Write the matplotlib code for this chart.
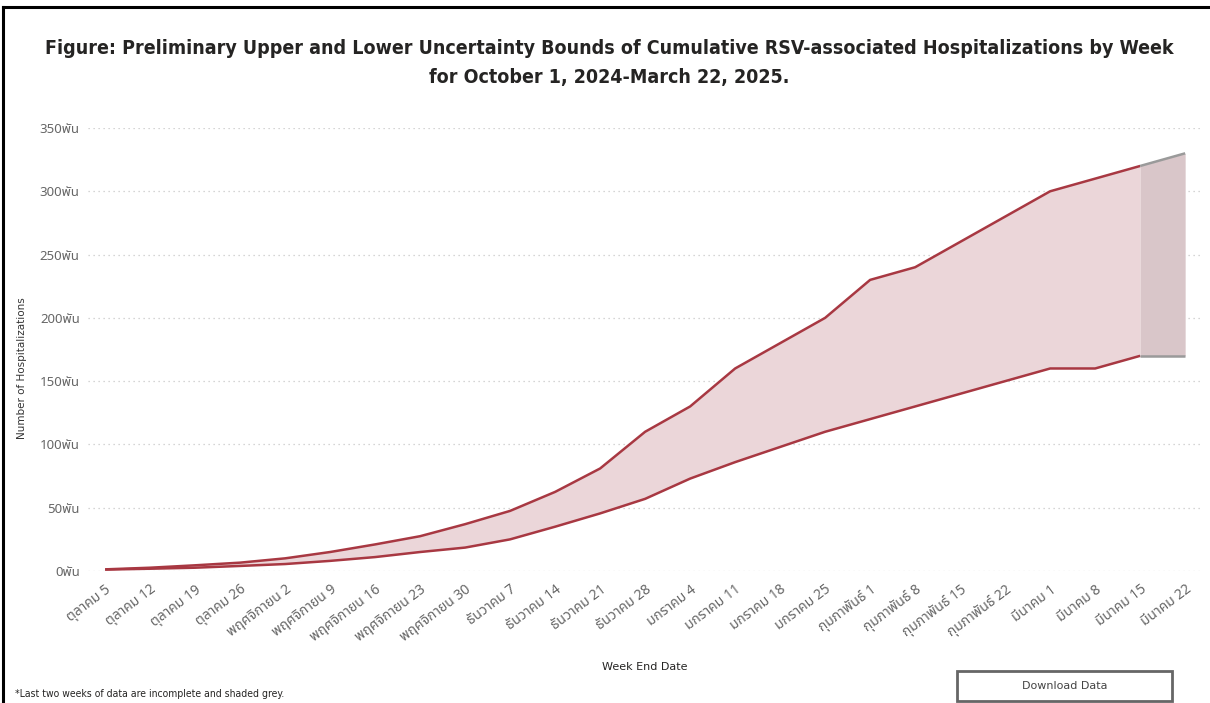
import matplotlib
matplotlib.use("Agg")
import matplotlib.pyplot as plt
from matplotlib import font_manager
from matplotlib.ft2font import FT2Font
from matplotlib.patches import Rectangle
from matplotlib.lines import Line2D

# Week-ending dates (Thai month names)
week_labels = [
    "ตุลาคม 5", "ตุลาคม 12", "ตุลาคม 19", "ตุลาคม 26",
    "พฤศจิกายน 2", "พฤศจิกายน 9", "พฤศจิกายน 16", "พฤศจิกายน 23", "พฤศจิกายน 30",
    "ธันวาคม 7", "ธันวาคม 14", "ธันวาคม 21", "ธันวาคม 28",
    "มกราคม 4", "มกราคม 11", "มกราคม 18", "มกราคม 25",
    "กุมภาพันธ์ 1", "กุมภาพันธ์ 8", "กุมภาพันธ์ 15", "กุมภาพันธ์ 22",
    "มีนาคม 1", "มีนาคม 8", "มีนาคม 15", "มีนาคม 22",
]

# Cumulative hospitalizations, thousands
upper_bound = [1.3, 2.6, 4.5, 6.6, 10, 15, 21, 27.5, 37, 47.5, 62.5, 81, 110,
               130, 160, 180, 200, 230, 240, 260, 280, 300, 310, 320, 330]
lower_bound = [1.1, 1.8, 2.6, 4, 5.5, 8, 11, 15, 18.5, 25, 35, 45.5, 57,
               73, 86, 98, 110, 120, 130, 140, 150, 160, 160, 170, 170]

y_ticks = [0, 50, 100, 150, 200, 250, 300, 350]
y_tick_labels = [f"{v}พัน" for v in y_ticks]

n_incomplete = 2  # last weeks shaded grey


def thai_family():
    preferred = ["Noto Sans Thai", "Noto Sans Thai UI", "Loma", "Garuda",
                 "Tlwg Typo", "Sarabun", "Kinnari", "Norasi", "Waree"]
    found = {}
    for f in font_manager.fontManager.ttflist:
        try:
            cmap = FT2Font(f.fname).get_charmap()
        except Exception:
            continue
        if 0x0E01 in cmap and 0x0E1E in cmap:
            found.setdefault(f.name, f.fname)
    for p in preferred:
        if p in found:
            return p
    return next(iter(found), None)


thai = thai_family()
tick_family = [thai, "Noto Sans", "DejaVu Sans"] if thai else ["Noto Sans", "DejaVu Sans"]

W, H = 1210, 703
fig = plt.figure(figsize=(W / 100, H / 100), dpi=100)
fig.patch.set_facecolor("white")

# plot region in pixels
x0_px, x1_px = 88, 1200
y0_px, y1_px = 571, 128
ax = fig.add_axes([x0_px / W, (H - y0_px) / H, (x1_px - x0_px) / W, (y0_px - y1_px) / H])

x = list(range(len(week_labels)))
line_color = "#a83842"
fill_color = "#ebd6d9"
grey_fill = "#d9c6c9"
grey_line = "#9a9a9a"

split = len(x) - n_incomplete  # first incomplete week
ax.fill_between(x[:split + 1], lower_bound[:split + 1], upper_bound[:split + 1],
                color=fill_color, linewidth=0, zorder=1)
ax.fill_between(x[split:], lower_bound[split:], upper_bound[split:],
                color=grey_fill, linewidth=0, zorder=1)
for series in (upper_bound, lower_bound):
    ax.plot(x[:split + 1], series[:split + 1], color=line_color, lw=1.8,
            solid_capstyle="butt", solid_joinstyle="round", zorder=3)
    ax.plot(x[split:], series[split:], color=grey_line, lw=1.8,
            solid_capstyle="butt", zorder=3)

ax.set_xlim(-0.38, 24.33)
ax.set_ylim(0, 350)
ax.set_yticks(y_ticks)
ax.set_yticklabels(y_tick_labels, family=tick_family, fontsize=9.5, color="#666666")
ax.set_xticks(x)
ax.set_xticklabels(week_labels, family=tick_family, fontsize=10, color="#666666",
                   rotation=37, ha="right", va="top", rotation_mode="anchor")
ax.tick_params(axis="both", length=0, pad=6)
ax.tick_params(axis="x", pad=8)
ax.grid(axis="y", color="#c8c8c8", linestyle=(0, (1, 3)), linewidth=0.9, zorder=0)
ax.set_axisbelow(True)
for s in ax.spines.values():
    s.set_visible(False)

# title
title_x = 0.5 * (40 + 1178) / W
fig.text(title_x, 1 - 48 / H,
         "Figure: Preliminary Upper and Lower Uncertainty Bounds of Cumulative RSV-associated Hospitalizations by Week",
         ha="center", va="center", fontsize=14, fontweight="bold", fontstretch="condensed",
         color="#252423")
fig.text(title_x, 1 - 77 / H, "for October 1, 2024-March 22, 2025.",
         ha="center", va="center", fontsize=14, fontweight="bold", fontstretch="condensed",
         color="#252423")

# axis titles
fig.text(22 / W, 1 - 368 / H, "Number of Hospitalizations", rotation=90,
         ha="center", va="center", fontsize=7.5, color="#333333")
fig.text(645 / W, 1 - 667 / H, "Week End Date", ha="center", va="center",
         fontsize=8, color="#252423")

# footnote
fig.text(15 / W, 1 - 694 / H, "*Last two weeks of data are incomplete and shaded grey.",
         ha="left", va="center", fontsize=7.5, fontstretch="condensed", color="#252423")

# download button
fig.add_artist(Rectangle((957 / W, 1 - 701 / H), (1172 - 957) / W, (701 - 671) / H,
                         transform=fig.transFigure, facecolor="white",
                         edgecolor="#666666", linewidth=2))
fig.text((957 + 1172) / 2 / W, 1 - 686 / H, "Download Data", ha="center", va="center",
         fontsize=8, color="#444444")

# frame edges
fig.add_artist(Line2D([3 / W, 1], [1 - 7 / H, 1 - 7 / H], transform=fig.transFigure,
                      color="black", linewidth=2.2))
fig.add_artist(Line2D([3 / W, 3 / W], [0, 1 - 7 / H], transform=fig.transFigure,
                      color="black", linewidth=2.2))

fig.savefig("out.png", dpi=100)
